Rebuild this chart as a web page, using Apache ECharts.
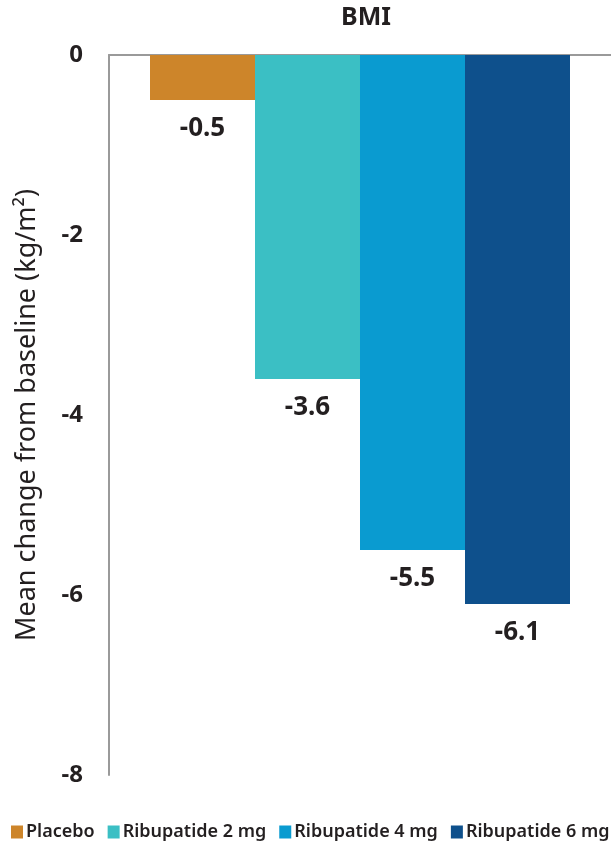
<!DOCTYPE html>
<html><head><meta charset="utf-8">
<script src="https://cdn.jsdelivr.net/npm/echarts@6/dist/echarts.min.js"></script>
<style>html,body{margin:0;padding:0;background:#fff}#c{width:611px;height:846px}</style>
</head><body><div id="c"></div>
<script>
const categories = ['BMI'];
const seriesNames = ['Placebo', 'Ribupatide 2 mg', 'Ribupatide 4 mg', 'Ribupatide 6 mg'];
const seriesValues = [-0.5, -3.6, -5.5, -6.1];
const seriesColors = ['#CD852A', '#3BBFC4', '#0A9BD0', '#0E508C'];
const yTicks = [0, -2, -4, -6, -8];

const font = 'Noto Sans';
const chart = echarts.init(document.getElementById('c'));
chart.setOption({
  animation: false,
  title: { text: categories[0], left: 361, textAlign: 'center', top: 0,
    textStyle: { fontFamily: font, fontSize: 25, fontWeight: 'bold', color: '#231f20' } },
  legend: { bottom: 5, left: 11, padding: 0, itemWidth: 12, itemHeight: 13, itemGap: 13,
    icon: 'rect', width: 610,
    textStyle: { fontFamily: font, fontSize: 18, fontWeight: 600, color: '#231f20', padding: [0,0,0,-2] },
    data: seriesNames },
  grid: { left: 109, right: 0, top: 55, bottom: 71 },
  xAxis: { type: 'category', data: categories, position: 'top',
    axisLine: { lineStyle: { color: '#9a9a9a', width: 2 } },
    axisTick: { show: false }, axisLabel: { show: false } },
  yAxis: { type: 'value', min: -8, max: 0, interval: 2,
    name: 'Mean change from baseline (kg/m²)', nameLocation: 'middle', nameGap: 68,
    nameTextStyle: { fontFamily: font, fontSize: 27, color: '#231f20' },
    axisLine: { show: true, lineStyle: { color: '#9a9a9a', width: 2 } },
    axisTick: { show: false }, splitLine: { show: false },
    axisLabel: { margin: 26, fontFamily: font, fontSize: 24, fontWeight: 'bold', color: '#231f20',
      formatter: v => yTicks.includes(v) ? String(v) : '' } },
  series: seriesNames.map((n, i) => ({
    name: n, type: 'bar', barWidth: 105, barGap: '0%',
    itemStyle: { color: seriesColors[i] },
    label: { show: true, position: 'bottom', distance: 16, fontFamily: font, fontSize: 26,
      fontWeight: 'bold', color: '#231f20', formatter: p => p.value.toFixed(1) },
    data: [seriesValues[i]]
  }))
});
</script></body></html>
